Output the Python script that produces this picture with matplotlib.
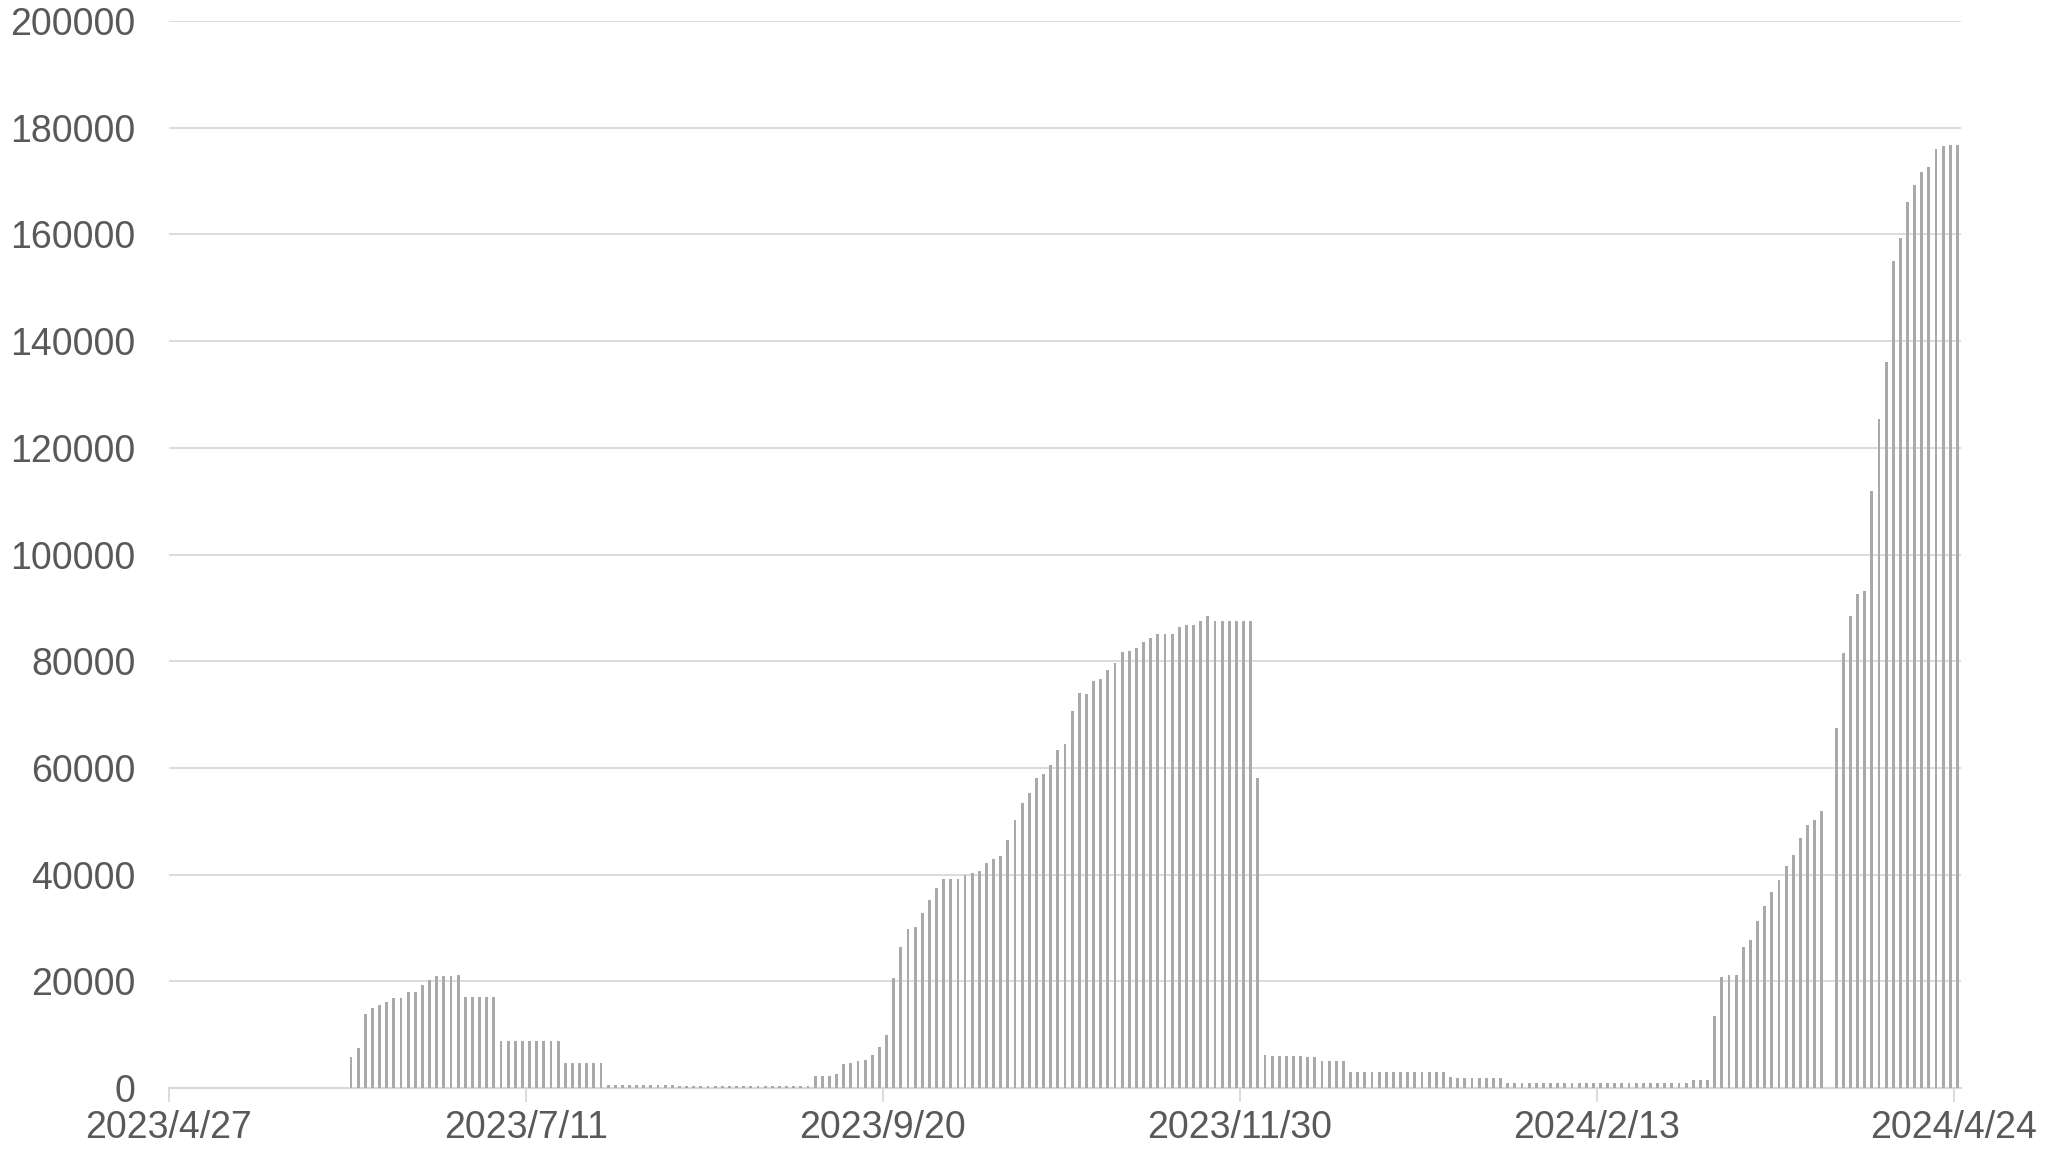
import matplotlib
matplotlib.use("Agg")
import matplotlib.pyplot as plt
import numpy as np

plt.rcParams['font.family'] = ['Liberation Sans', 'DejaVu Sans']

# one bar per category, labels every 50 categories
values = [
    0, 0, 0, 0, 0, 0, 0, 0, 0, 0,
    0, 0, 0, 0, 0, 0, 0, 0, 0, 0,
    0, 0, 0, 0, 0, 5740, 7570, 13880, 14950, 15590,
    16090, 16780, 16780, 17920, 17920, 19370, 20320, 20950, 20950, 20950,
    21260, 17100, 17040, 17040, 17040, 17040, 8830, 8830, 8830, 8830,
    8830, 8830, 8830, 8830, 8830, 4610, 4610, 4610, 4610, 4610,
    4610, 550, 550, 550, 550, 550, 550, 550, 550, 550,
    550, 380, 380, 380, 380, 380, 380, 380, 380, 380,
    380, 380, 380, 380, 380, 380, 380, 380, 380, 380,
    2310, 2310, 2310, 2620, 4440, 4720, 5120, 5340, 6250, 7720,
    9866, 20540, 26410, 29720, 30160, 32720, 35150, 37530, 39090, 39090,
    39210, 39900, 40340, 40770, 42210, 42960, 43580, 46580, 50330, 53450,
    55320, 58190, 58820, 60630, 63310, 64560, 70740, 74050, 73930, 76240,
    76740, 78420, 79670, 81670, 81860, 82480, 83610, 84360, 85170, 85170,
    85170, 86350, 86790, 86790, 87600, 88500, 87600, 87600, 87600, 87600,
    87600, 87600, 58200, 6155, 6020, 5950, 5950, 5950, 5950, 5820,
    5750, 5150, 5000, 5000, 5000, 3080, 3080, 3080, 3080, 3080,
    3080, 3080, 3080, 3080, 3080, 3080, 3080, 3080, 3080, 2000,
    1880, 1880, 1880, 1880, 1880, 1880, 1880, 950, 950, 950,
    950, 950, 950, 950, 950, 950, 950, 950, 950, 950,
    950, 950, 950, 950, 950, 950, 950, 950, 950, 950,
    950, 950, 950, 1560, 1560, 1560, 13440, 20724, 21100, 21100,
    26500, 27760, 31270, 34160, 36680, 39060, 41570, 43710, 46850, 49240,
    50240, 52000, 0, 67450, 81510, 88550, 92570, 93200, 111910, 125470,
    136020, 154990, 159260, 166170, 169310, 171700, 172700, 176090, 176600, 176730,
    176850,
]
tick_labels = ["2023/4/27", "2023/7/11", "2023/9/20", "2023/11/30", "2024/2/13", "2024/4/24"]
label_step = 50

text_color = "#595959"
grid_color = "#d9d9d9"

fig = plt.figure(figsize=(20.66, 11.5), dpi=100)
ax = fig.add_axes([0.0818, 0.0539, 0.8674, 0.9278])

x = np.arange(len(values))
ax.bar(x, values, width=0.4, color="#a9a9a9", zorder=3)

ax.set_xlim(-0.5, len(values) - 0.5)
ax.set_ylim(0, 200000)
ax.set_yticks(np.arange(0, 200001, 20000))
ax.yaxis.grid(True, color=grid_color, linewidth=1.3, zorder=0)

ax.set_xticks([i * label_step - 0.5 for i in range(len(tick_labels))])
ax.set_xticklabels(tick_labels)

for s in ["top", "right", "left"]:
    ax.spines[s].set_visible(False)
ax.spines["bottom"].set_color(grid_color)
ax.spines["bottom"].set_linewidth(1.5)
ax.spines["bottom"].set_zorder(2)

ax.tick_params(axis="y", length=0, pad=24, labelsize=27, labelcolor=text_color)
ax.tick_params(axis="x", length=10, width=1.3, color=grid_color, pad=6,
               labelsize=27, labelcolor=text_color)

fig.savefig("out.png", dpi=100)
